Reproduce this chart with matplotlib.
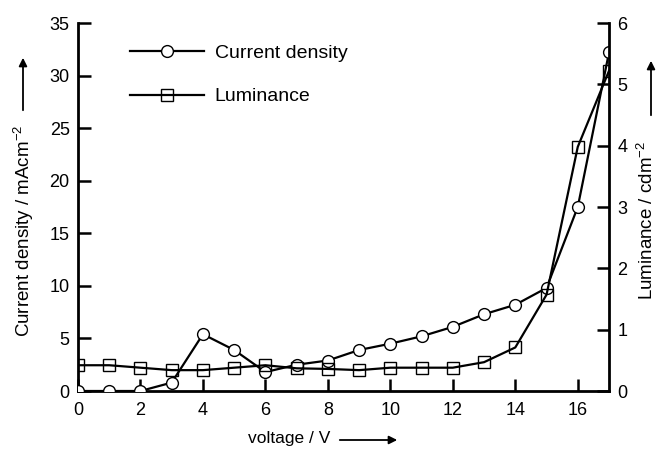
import matplotlib
matplotlib.use("Agg")
import matplotlib.pyplot as plt

plt.rcParams['font.family'] = ['Liberation Sans', 'DejaVu Sans']
plt.rcParams['mathtext.fontset'] = 'custom'
plt.rcParams['mathtext.rm'] = 'Liberation Sans'
plt.rcParams['mathtext.it'] = 'Liberation Sans'

voltage = [0, 1, 2, 3, 4, 5, 6, 7, 8, 9, 10, 11, 12, 13, 14, 15, 16, 17]
current_density = [0.0, 0.0, 0.0, 0.8, 5.4, 3.9, 1.8, 2.5, 2.9, 3.9, 4.5, 5.2, 6.1, 7.3, 8.2, 9.8, 17.5, 32.2]
luminance = [0.42, 0.42, 0.38, 0.34, 0.34, 0.38, 0.42, 0.37, 0.36, 0.34, 0.38, 0.38, 0.38, 0.47, 0.71, 1.57, 3.98, 5.22]

x_ticks = [0, 2, 4, 6, 8, 10, 12, 14, 16]
left_ticks = [0, 5, 10, 15, 20, 25, 30, 35]
right_ticks = [0, 1, 2, 3, 4, 5, 6]

fig = plt.figure(figsize=(6.58, 4.49), dpi=100)
ax = fig.add_axes([78/658, 1-391/449, 531/658, 368/449])
ax2 = ax.twinx()

lw = 1.6
l1, = ax.plot(voltage, current_density, color='black', lw=lw, marker='o',
              markersize=8.5, markerfacecolor='white', markeredgecolor='black',
              markeredgewidth=1.0, label='Current density', zorder=3)
l2, = ax2.plot(voltage, luminance, color='black', lw=lw, marker='s',
               markersize=8, markerfacecolor='none', markeredgecolor='black',
               markeredgewidth=1.0, label='Luminance', zorder=3)

ax.set_xlim(0, 17)
ax.set_ylim(0, 35)
ax2.set_ylim(0, 6)
ax.set_xticks(x_ticks)
ax.set_yticks(left_ticks)
ax2.set_yticks(right_ticks)

for a in (ax, ax2):
    a.spines['top'].set_visible(False)
    for s in a.spines.values():
        s.set_linewidth(2.0)
ax.spines['right'].set_visible(False)
ax2.spines['left'].set_visible(False)
ax2.spines['bottom'].set_visible(False)

fs = 13.5
ax.tick_params(axis='both', direction='in', length=9, width=1.8, labelsize=13, pad=6)
ax2.tick_params(axis='y', direction='in', length=9, width=1.8, labelsize=13, pad=6)
ax.tick_params(axis='x', pad=8)

ax.set_xlabel('voltage / V', fontsize=12.5)
ax.xaxis.set_label_coords((289 - 78) / 531, -(439 - 391) / 368, transform=ax.transAxes)
ax.xaxis.label.set_verticalalignment('center')
ax.set_ylabel('Current density / mAcm$^{-2}$', fontsize=fs)
ax.yaxis.set_label_coords(-(78 - 24) / 531, (391 - 231) / 368)
ax.yaxis.label.set_verticalalignment('center')
ax2.set_ylabel('Luminance / cdm$^{-2}$', fontsize=fs, rotation=90)
ax2.yaxis.set_label_coords(1 + (647 - 609) / 531, (391 - 220) / 368)
ax2.yaxis.label.set_verticalalignment('center')

arrow = dict(arrowstyle='-|>', color='black', lw=1.3, mutation_scale=12)
def fpt(x, y):
    return (x / 658, 1 - y / 449)
ax.annotate('', xy=fpt(23, 55), xytext=fpt(23, 113), xycoords='figure fraction',
            textcoords='figure fraction', arrowprops=arrow)
ax.annotate('', xy=fpt(651, 58), xytext=fpt(651, 118), xycoords='figure fraction',
            textcoords='figure fraction', arrowprops=arrow)
ax.annotate('', xy=fpt(400, 440), xytext=fpt(337, 440), xycoords='figure fraction',
            textcoords='figure fraction', arrowprops=arrow)

leg = ax.legend(handles=[l1, l2], loc='upper left',
                bbox_to_anchor=((130 - 78) / 531, (391 - 44) / 368),
                frameon=False, fontsize=14, handlelength=3.8,
                handletextpad=0.55, labelspacing=1.35, borderpad=0, borderaxespad=0)

fig.savefig('out.png', dpi=100)
